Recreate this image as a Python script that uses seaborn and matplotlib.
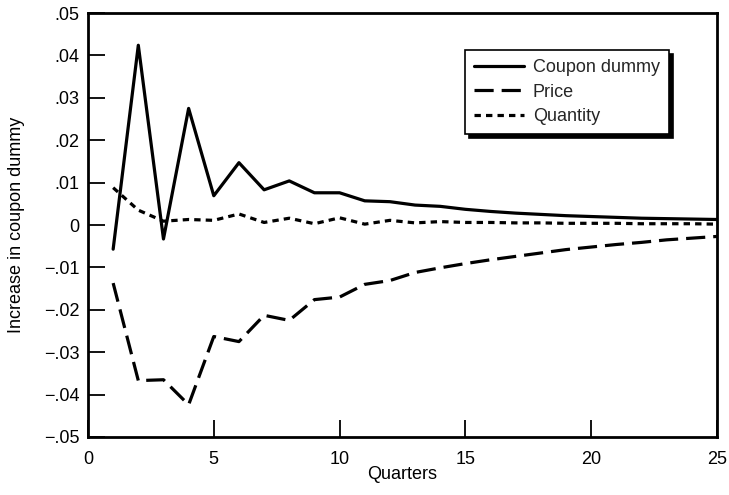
import numpy as np
import pandas as pd
import matplotlib
matplotlib.use("Agg")
import matplotlib.pyplot as plt
import seaborn as sns
from matplotlib.lines import Line2D

quarters = list(range(1, 26))
coupon_dummy = [-0.0057, 0.0424, -0.0033, 0.0275, 0.0069, 0.0147, 0.0083, 0.0104, 0.0076, 0.0076,
                0.0057, 0.0055, 0.0047, 0.0044, 0.0037, 0.0032, 0.0028, 0.0025, 0.0022, 0.0020,
                0.0018, 0.0016, 0.0015, 0.0014, 0.0013]
price = [-0.0137, -0.0367, -0.0365, -0.0424, -0.0263, -0.0275, -0.0213, -0.0225, -0.0176, -0.0170,
         -0.0140, -0.0131, -0.0112, -0.0101, -0.0091, -0.0082, -0.0074, -0.0066, -0.0058, -0.0052,
         -0.0046, -0.0041, -0.0035, -0.0031, -0.0027]
quantity = [0.0088, 0.0035, 0.0009, 0.0013, 0.0011, 0.0026, 0.0006, 0.0016, 0.0003, 0.0017,
            0.0002, 0.0011, 0.0005, 0.0008, 0.0006, 0.0006, 0.0005, 0.0005, 0.0004, 0.0004,
            0.0004, 0.0003, 0.0003, 0.0003, 0.0002]
series_names = ["Coupon dummy", "Price", "Quantity"]
x_ticks = [0, 5, 10, 15, 20, 25]
y_ticks = [-0.05, -0.04, -0.03, -0.02, -0.01, 0, 0.01, 0.02, 0.03, 0.04, 0.05]

df = pd.DataFrame({"Quarters": quarters * 3,
                   "value": coupon_dummy + price + quantity,
                   "series": np.repeat(series_names, len(quarters))})

sns.set_theme(style="ticks", rc={"axes.axisbelow": False})
plt.rcParams["font.family"] = ["Liberation Sans", "DejaVu Sans"]

fig = plt.figure(figsize=(7.29, 4.95), dpi=100)
ax = fig.add_axes([0.1207, 0.1172, 0.8628, 0.8565])

dash_map = {"Coupon dummy": "", "Price": (6, 2.5), "Quantity": (2, 1.6)}
sns.lineplot(data=df, x="Quarters", y="value", hue="series", style="series",
             palette=["black"] * 3, dashes=dash_map, linewidth=2.3, ax=ax, legend=False)

for sp in ax.spines.values():
    sp.set_linewidth(2)
    sp.set_color("black")
    sp.set_visible(True)

ax.set_xlim(0, 25)
ax.set_ylim(-0.05, 0.05)
ax.set_xticks(x_ticks)
ax.set_yticks(y_ticks)

def fmt(v):
    if abs(v) < 1e-12:
        return "0"
    s = f"{abs(v):.2f}".lstrip("0")
    return ("\u2212" if v < 0 else "") + s

ax.set_yticklabels([fmt(v) for v in y_ticks])
ax.tick_params(axis="both", which="major", direction="in", length=12, width=1.3,
               color="black", labelsize=13, labelcolor="black",
               bottom=True, left=True, top=False, right=False)
ax.tick_params(axis="x", pad=10)
ax.tick_params(axis="y", pad=6)

ax.set_xlabel("Quarters", fontsize=13, color="black", labelpad=-1)
ax.set_ylabel("Increase in coupon dummy", fontsize=13, color="black", labelpad=14)

handles = [Line2D([0], [0], color="black", lw=2.3, linestyle="-"),
           Line2D([0], [0], color="black", lw=2.3, linestyle=(0, (6, 2.5))),
           Line2D([0], [0], color="black", lw=2.3, linestyle=(0, (2, 1.6)))]
leg = ax.legend(handles, series_names, loc="upper left", bbox_to_anchor=(0.599, 0.913),
                frameon=True, fancybox=False,
                shadow={"color": "black", "alpha": 1, "ox": 3, "oy": -3},
                fontsize=13, handlelength=2.77, borderpad=0.5, labelspacing=0.42,
                handletextpad=0.5, borderaxespad=0)
leg.get_frame().set_edgecolor("black")
leg.get_frame().set_linewidth(1.2)

fig.savefig("out.png", dpi=100)
